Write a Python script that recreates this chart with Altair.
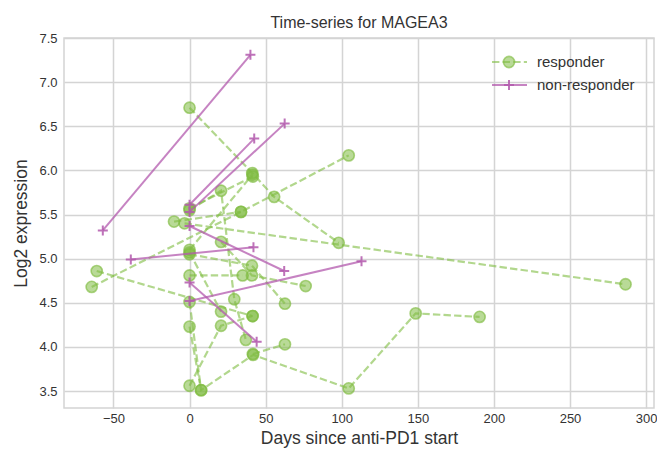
import altair as alt
import pandas as pd

GREEN = "#7fbc41"
PURPLE = "#b35aad"
FONT = "Liberation Sans"

# ---- responders (dashed green, circles) ----
resp_patient = (["R1"] * 4 + ["R2"] * 2 + ["R3"] * 3 + ["R4"] * 2 + ["R5"] * 2 + ["R6"] * 2
                + ["R7"] * 3 + ["R8"] * 2 + ["R9"] * 4 + ["R10"] * 2 + ["R11"] * 3 + ["R12"] * 2
                + ["R13"] * 6 + ["R14"] * 3 + ["R15"] * 2 + ["R16"] * 2)
resp_day = [0, 41.2, 55.6, 98.0,
            -3.3, 286.5,
            -64.3, 33.8, 104.6,
            -10.2, 33.8,
            0, 41.6,
            0, 41.3,
            0, 41.0, 62.7,
            0, 20.7,
            0, 20.7, 29.4, 37.0,
            0, 34.9,
            20.7, 41.0, 76.3,
            -61.0, 41.4,
            0, 7.6, 41.8, 104.6, 148.6, 190.6,
            0, 20.7, 41.4,
            41.6, 62.7,
            0, 7.6]
resp_expr = [6.71, 5.97, 5.70, 5.18,
             5.40, 4.71,
             4.68, 5.53, 6.17,
             5.42, 5.53,
             5.57, 5.93,
             5.10, 5.95,
             5.05, 4.92, 4.49,
             5.07, 4.40,
             5.55, 5.77, 4.54, 4.08,
             4.81, 4.81,
             5.19, 4.81, 4.69,
             4.86, 4.35,
             4.51, 3.51, 3.91, 3.53, 4.38, 4.34,
             3.56, 4.24, 4.35,
             3.92, 4.03,
             4.23, 3.51]

# ---- non-responders (solid purple, plus) ----
nonresp_patient = ["N1"] * 2 + ["N2"] * 2 + ["N3"] * 2 + ["N4"] * 2 + ["N5"] * 2 + ["N6"] * 2 + ["N7"] * 2
nonresp_day = [-57.0, 40.0, 0, 42.5, 0, 62.5, -38.6, 42.0, 0, 62.2, 0, 113.0, 0, 44.1]
nonresp_expr = [5.32, 7.31, 5.61, 6.36, 5.53, 6.53, 4.99, 5.13, 5.37, 4.86, 4.52, 4.97, 4.73, 4.06]

legend_labels = ["responder", "non-responder"]

x_ticks = [-50, 0, 50, 100, 150, 200, 250, 300]
y_ticks = [3.5, 4.0, 4.5, 5.0, 5.5, 6.0, 6.5, 7.0, 7.5]

resp = pd.DataFrame({"patient": resp_patient, "day": resp_day, "expr": resp_expr})
nonresp = pd.DataFrame({"patient": nonresp_patient, "day": nonresp_day, "expr": nonresp_expr})

xs = alt.Scale(domain=[-82.5, 305.2], nice=False, zero=False)
ys = alt.Scale(domain=[3.308, 7.5], nice=False, zero=False)

X = alt.X("day:Q", scale=xs, title="Days since anti-PD1 start",
          axis=alt.Axis(values=x_ticks, format="d"))
Y = alt.Y("expr:Q", scale=ys, title="Log2 expression",
          axis=alt.Axis(values=y_ticks, format=".1f"))

resp_lines = alt.Chart(resp).mark_line(
    color=GREEN, strokeWidth=2.2, strokeDash=[7.4, 3.2], opacity=0.6
).encode(x=X, y=Y, detail="patient:N", order="day:Q")

resp_points = alt.Chart(resp).mark_circle(
    size=125, color=GREEN, fillOpacity=0.55, stroke=GREEN, strokeWidth=1.6, strokeOpacity=0.65
).encode(x=X, y=Y)

nonresp_lines = alt.Chart(nonresp).mark_line(
    color=PURPLE, strokeWidth=2, opacity=0.75
).encode(x=X, y=Y, detail="patient:N", order="day:Q")

plus_path = "M-1,0L1,0M0,-1L0,1"
nonresp_points = alt.Chart(nonresp).mark_point(
    shape=plus_path, size=100, filled=False, stroke=PURPLE, strokeWidth=2, opacity=0.85
).encode(x=X, y=Y)

# ---- legend (top-right, inside the plot) ----
leg_resp = pd.DataFrame({"g": [legend_labels[0]]})
leg_non = pd.DataFrame({"g": [legend_labels[1]]})

LX0, LX1, LXM, LXT = 428, 463, 445, 473
LY1, LY2 = 24, 47

leg1_line = alt.Chart(leg_resp).mark_rule(
    color=GREEN, strokeWidth=2.2, strokeDash=[7.4, 3.2], opacity=0.6
).encode(x=alt.value(LX0), x2=alt.value(LX1), y=alt.value(LY1))
leg1_pt = alt.Chart(leg_resp).mark_circle(
    size=125, color=GREEN, fillOpacity=0.55, stroke=GREEN, strokeWidth=1.6, strokeOpacity=0.65
).encode(x=alt.value(LXM), y=alt.value(LY1))
leg1_txt = alt.Chart(leg_resp).mark_text(
    align="left", baseline="middle", fontSize=15, font=FONT, color="#333333"
).encode(x=alt.value(LXT), y=alt.value(LY1), text="g:N")

leg2_line = alt.Chart(leg_non).mark_rule(
    color=PURPLE, strokeWidth=2, opacity=0.75
).encode(x=alt.value(LX0), x2=alt.value(LX1), y=alt.value(LY2))
leg2_pt = alt.Chart(leg_non).mark_point(
    shape=plus_path, size=100, filled=False, stroke=PURPLE, strokeWidth=2, opacity=0.85
).encode(x=alt.value(LXM), y=alt.value(LY2))
leg2_txt = alt.Chart(leg_non).mark_text(
    align="left", baseline="middle", fontSize=15, font=FONT, color="#333333"
).encode(x=alt.value(LXT), y=alt.value(LY2), text="g:N")

chart = alt.layer(
    resp_lines, resp_points, nonresp_lines, nonresp_points,
    leg1_line, leg1_pt, leg1_txt, leg2_line, leg2_pt, leg2_txt
).properties(
    width=590,
    height=370,
    title=alt.TitleParams("Time-series for MAGEA3", fontSize=16, font=FONT,
                          fontWeight="normal", color="#333333", offset=1),
    autosize=alt.AutoSizeParams(type="none"),
    padding={"left": 56, "top": 30, "right": 3, "bottom": 41},
).configure_view(
    stroke="#d4d4d4", strokeWidth=1.5
).configure_axis(
    grid=True, gridColor="#d4d4d4", gridWidth=1.5, domain=False, ticks=False, tickSize=0,
    labelFont=FONT, labelFontSize=13, labelColor="#333333",
    titleFont=FONT, titleFontSize=17.5, titleFontWeight="normal", titleColor="#333333",
).configure_axisX(
    labelPadding=4, titlePadding=4
).configure_axisY(
    labelPadding=7, titlePadding=8
)

chart.save("out.html", embed_options={"renderer": "svg", "actions": False})
